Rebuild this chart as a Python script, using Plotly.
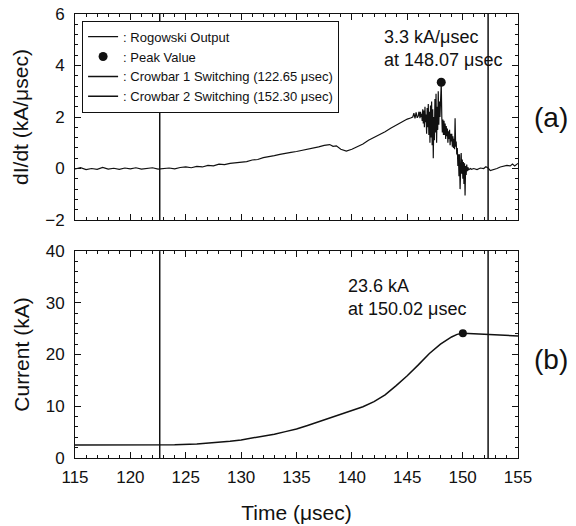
import plotly.graph_objects as go

# ---- Data ----
didt_time = [115.0, 115.5, 116.0, 116.5, 117.0, 117.5, 118.0, 118.5, 119.0, 119.5,
             120.0, 120.5, 121.0, 121.5, 122.0, 122.5, 123.0, 123.5, 124.0, 124.5,
             125.0, 125.5, 126.0, 126.5, 127.0, 127.5, 128.0, 128.5, 129.0, 129.5,
             130.0, 130.5, 131.0, 131.5, 132.0, 132.5, 133.0, 133.5, 134.0, 134.5,
             135.0, 135.5, 136.0, 136.5, 137.0, 137.5, 138.0, 138.3, 138.6, 139.0,
             139.5, 140.0, 140.5, 141.0, 141.5, 142.0, 142.5, 143.0, 143.5, 144.0,
             144.5, 145.0, 145.3, 145.5, 145.6, 145.7, 145.8, 145.9,
             146.0, 146.05, 146.1, 146.15, 146.2, 146.25, 146.3, 146.35, 146.4, 146.45, 146.5,
             146.55, 146.6, 146.65, 146.7, 146.75, 146.8, 146.85, 146.9, 146.95, 147.0,
             147.05, 147.1, 147.15, 147.2, 147.25, 147.3, 147.35, 147.4, 147.45, 147.5,
             147.55, 147.6, 147.65, 147.7, 147.75, 147.8, 147.85, 147.9, 147.95, 148.0,
             148.07, 148.12, 148.17, 148.22, 148.27, 148.32, 148.37, 148.42, 148.47, 148.52,
             148.57, 148.62, 148.67, 148.72, 148.77, 148.82, 148.87, 148.92, 148.97, 149.02,
             149.07, 149.12, 149.17, 149.22, 149.27, 149.32, 149.37, 149.42, 149.47, 149.52,
             149.57, 149.62, 149.67, 149.72, 149.77, 149.82, 149.87, 149.92, 149.97, 150.02,
             150.07, 150.12, 150.17, 150.22, 150.27, 150.32, 150.37, 150.42, 150.47, 150.55,
             150.7, 150.8, 151.0, 151.3, 151.6, 151.9, 152.1, 152.3, 152.5, 152.8,
             153.1, 153.4, 153.7, 154.0, 154.3, 154.5, 154.7, 155.0]
didt_value = [-0.02, 0.03, -0.04, 0.0, -0.03, 0.04, -0.02, 0.01, -0.03, 0.02,
              -0.01, 0.03, -0.02, 0.01, 0.03, -0.02, 0.0, 0.02, -0.01, 0.04,
              0.06, 0.03, 0.08, 0.06, 0.12, 0.10, 0.17, 0.15, 0.20, 0.22,
              0.25, 0.27, 0.33, 0.35, 0.42, 0.45, 0.50, 0.55, 0.60, 0.63,
              0.66, 0.70, 0.75, 0.80, 0.84, 0.90, 0.93, 0.86, 0.88, 0.75,
              0.68, 0.75, 0.85, 0.95, 1.10, 1.20, 1.32, 1.43, 1.56, 1.68,
              1.82, 1.92, 1.96, 2.00, 2.15, 1.95, 2.18, 1.97,
              2.05, 2.20, 2.15, 1.95, 2.20, 2.00, 2.12, 1.85, 2.30, 1.75, 2.25,
              1.60, 2.40, 1.80, 2.10, 1.35, 2.35, 1.60, 2.50, 1.30, 2.20,
              1.00, 2.45, 1.20, 2.60, 0.90, 2.30, 0.40, 2.00, 1.10, 2.70,
              1.40, 2.90, 1.00, 2.40, 1.50, 3.00, 1.70, 2.60, 2.00, 3.10,
              3.30, 2.00, 1.40, 1.90, 1.30, 1.85, 1.30, 1.75, 1.15, 1.65,
              1.25, 1.55, 1.00, 1.45, 1.15, 1.50, 0.90, 1.35, 1.05, 1.35,
              0.85, 1.25, 0.80, 1.15, 0.75, 1.95, 0.85, 1.05, 0.55, 0.80,
              0.10, 0.55, -0.30, 0.55, -0.80, 0.25, 0.60, -0.20, 0.35, -0.40,
              0.25, -0.60, 0.20, -1.05, 0.10, -0.25, 0.15, -0.10, 0.05, -0.05,
              0.0, -0.03, 0.0, -0.04, 0.02, 0.0, 0.07, 0.02, -0.08, -0.05,
              0.0, 0.06, 0.10, 0.12, 0.10, 0.17, 0.10, 0.20]

current_time = [115, 120, 122, 124, 126, 127, 128, 129, 130, 131, 132, 133, 134, 135,
                136, 137, 138, 139, 140, 141, 142, 143, 144, 145, 146, 147, 148, 149,
                149.5, 150.02, 151, 152, 153, 154, 155]
current_value = [2.5, 2.5, 2.5, 2.55, 2.7, 2.85, 3.0, 3.25, 3.5, 3.85, 4.2, 4.6, 5.1, 5.6,
                 6.3, 7.0, 7.7, 8.4, 9.1, 9.9, 10.9, 12.2, 14.0, 15.9, 18.0, 20.2, 22.0, 23.4,
                 23.9, 24.1, 24.0, 23.9, 23.8, 23.7, 23.6]

peak_didt = (148.07, 3.35)
peak_current = (150.02, 24.1)
crowbar1 = 122.65
crowbar2 = 152.30

INK = "#111111"
FONT = "Arial, Liberation Sans, sans-serif"

fig = go.Figure()

# Top panel
fig.add_trace(go.Scatter(x=didt_time, y=didt_value, mode="lines",
                         line=dict(color=INK, width=1.2),
                         name=": Rogowski Output", xaxis="x", yaxis="y"))
fig.add_trace(go.Scatter(x=[peak_didt[0]], y=[peak_didt[1]], mode="markers",
                         marker=dict(color=INK, size=9),
                         name=": Peak Value", xaxis="x", yaxis="y"))
fig.add_trace(go.Scatter(x=[crowbar1, crowbar1], y=[-2, 6], mode="lines",
                         line=dict(color=INK, width=1.5),
                         name=": Crowbar 1 Switching (122.65 μsec)", xaxis="x", yaxis="y"))
fig.add_trace(go.Scatter(x=[crowbar2, crowbar2], y=[-2, 6], mode="lines",
                         line=dict(color=INK, width=1.5),
                         name=": Crowbar 2 Switching (152.30 μsec)", xaxis="x", yaxis="y"))

# Bottom panel
fig.add_trace(go.Scatter(x=current_time, y=current_value, mode="lines",
                         line=dict(color=INK, width=1.5), showlegend=False,
                         xaxis="x2", yaxis="y2"))
fig.add_trace(go.Scatter(x=[peak_current[0]], y=[peak_current[1]], mode="markers",
                         marker=dict(color=INK, size=8), showlegend=False,
                         xaxis="x2", yaxis="y2"))
fig.add_trace(go.Scatter(x=[crowbar1, crowbar1], y=[0, 40], mode="lines",
                         line=dict(color=INK, width=1.5), showlegend=False,
                         xaxis="x2", yaxis="y2"))
fig.add_trace(go.Scatter(x=[crowbar2, crowbar2], y=[0, 40], mode="lines",
                         line=dict(color=INK, width=1.5), showlegend=False,
                         xaxis="x2", yaxis="y2"))

axis_common = dict(showline=True, linecolor=INK, linewidth=1, mirror="allticks",
                   ticks="inside", ticklen=6, tickwidth=1, tickcolor=INK,
                   showgrid=False, zeroline=False, automargin=False,
                   tickfont=dict(family=FONT, size=17, color=INK))

fig.update_layout(
    width=576, height=526,
    paper_bgcolor="white", plot_bgcolor="white",
    margin=dict(l=75, r=58, t=14, b=68),
    font=dict(family=FONT, color=INK),
    showlegend=True,
    legend=dict(x=0.016, y=0.985, xanchor="left", yanchor="top",
                bgcolor="white", bordercolor=INK, borderwidth=1,
                font=dict(family=FONT, size=13, color=INK),
                itemwidth=30, tracegroupgap=0),
    xaxis=dict(domain=[0, 1], anchor="y", range=[115, 155], dtick=5,
               showticklabels=False,
               minor=dict(dtick=1, ticks="inside", ticklen=3, tickcolor=INK),
               **axis_common),
    yaxis=dict(domain=[0.536, 1], anchor="x", range=[-2, 6], dtick=2,
               ticklabelstandoff=6,
               minor=dict(dtick=0.4, ticks="inside", ticklen=3, tickcolor=INK),
               title=dict(text="dI/dt (kA/μsec)", standoff=10,
                          font=dict(family=FONT, size=21, color=INK)),
               **axis_common),
    xaxis2=dict(domain=[0, 1], anchor="y2", range=[115, 155], dtick=5,
                ticklabelstandoff=4,
                minor=dict(dtick=1, ticks="inside", ticklen=3, tickcolor=INK),
                title=dict(text="Time (μsec)", standoff=18,
                           font=dict(family=FONT, size=21, color=INK)),
                **axis_common),
    yaxis2=dict(domain=[0, 0.466], anchor="x2", range=[0, 40], dtick=10,
                ticklabelstandoff=6,
                minor=dict(dtick=2, ticks="inside", ticklen=3, tickcolor=INK),
                title=dict(text="Current (kA)", standoff=10,
                           font=dict(family=FONT, size=21, color=INK)),
                **axis_common),
    annotations=[
        dict(x=142.7, y=4.66, xref="x", yref="y", xanchor="left", yanchor="middle",
             align="left", showarrow=False,
             text="3.3 kA/μsec<br>at 148.07 μsec",
             font=dict(family=FONT, size=18, color=INK)),
        dict(x=139.5, y=31.1, xref="x2", yref="y2", xanchor="left", yanchor="middle",
             align="left", showarrow=False,
             text="23.6 kA<br>at 150.02 μsec",
             font=dict(family=FONT, size=18, color=INK)),
        dict(x=1.0745, y=0.766, xref="paper", yref="paper", xanchor="center", yanchor="middle",
             showarrow=False, text="(a)", font=dict(family=FONT, size=28, color=INK)),
        dict(x=1.0745, y=0.221, xref="paper", yref="paper", xanchor="center", yanchor="middle",
             showarrow=False, text="(b)", font=dict(family=FONT, size=28, color=INK)),
    ],
)

fig.write_html("out.html", config={"displayModeBar": False},
               post_script="document.body.style.margin='0';document.body.style.padding='0';")
